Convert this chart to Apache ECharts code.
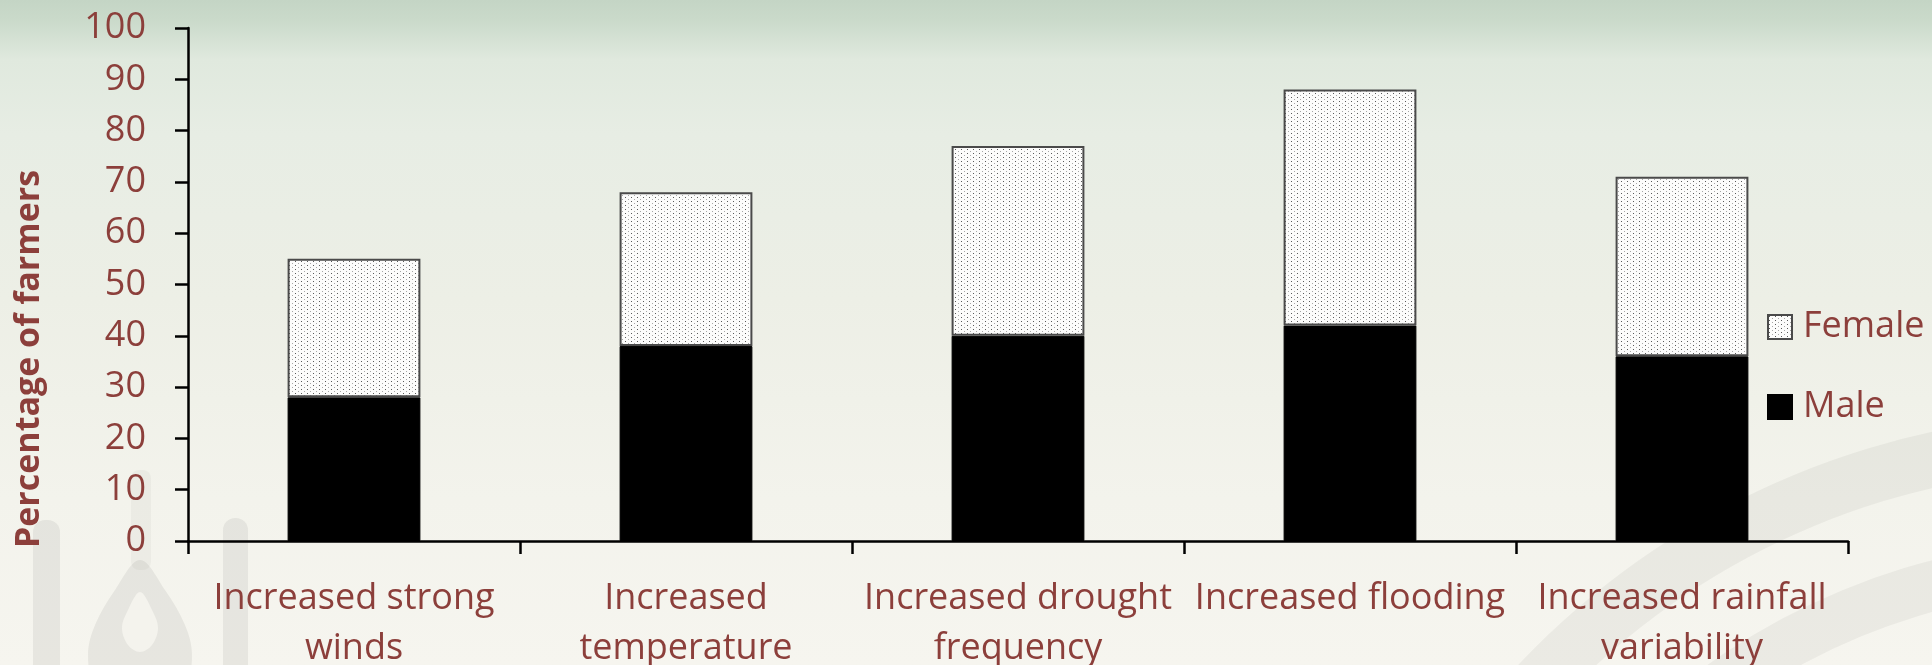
<!DOCTYPE html>
<html><head><meta charset="utf-8">
<script src="https://cdn.jsdelivr.net/npm/echarts@6/dist/echarts.min.js"></script>
<style>html,body{margin:0;padding:0;background:#f4f3ed;}#c{width:1932px;height:665px;}</style>
</head><body><div id="c"></div>
<script>
// ---- data ----
const categories = ['Increased strong\nwinds', 'Increased\ntemperature', 'Increased drought\nfrequency', 'Increased flooding', 'Increased rainfall\nvariability'];
const male = [28, 38, 40, 42, 36];
const female = [27, 30, 37, 46, 35];
const yMin = 0, yMax = 100, yStep = 10;
const seriesNames = ['Female', 'Male'];
const yTitle = 'Percentage of farmers';

// ---- styles ----
const txt = '#8C3F3B';
const font = 'Open Sans';

// dotted pattern for Female bars
const pc = document.createElement('canvas');
pc.width = 6; pc.height = 4;
const g = pc.getContext('2d');
g.fillStyle = '#fcfcfb'; g.fillRect(0, 0, 6, 4);
g.fillStyle = '#5a5a5a'; g.fillRect(1, 1, 1, 1);
g.fillStyle = '#a8a8a8'; g.fillRect(4, 3, 1, 1);

const wm = 'rgba(0,0,0,0.06)';
const chart = echarts.init(document.getElementById('c'), null, {renderer: 'canvas'});
chart.setOption({
  backgroundColor: {
    type: 'linear', x: 0, y: 0, x2: 0, y2: 1,
    colorStops: [
      {offset: 0, color: '#c4d5c5'},
      {offset: 0.03, color: '#cadaca'},
      {offset: 0.09, color: '#e0e9de'},
      {offset: 0.2, color: '#e7ede4'},
      {offset: 0.45, color: '#edefe6'},
      {offset: 0.75, color: '#f3f3ec'},
      {offset: 1, color: '#f6f5ef'}
    ]
  },
  animation: false,
  textStyle: {fontFamily: font},
  graphic: [
    // watermark bottom-left
    {type: 'rect', z: -10, silent: true, shape: {x: 33, y: 520, width: 27, height: 160, r: 12}, style: {fill: wm}},
    {type: 'rect', z: -10, silent: true, shape: {x: 223, y: 518, width: 25, height: 160, r: 12}, style: {fill: wm}},
    {type: 'rect', z: -10, silent: true, shape: {x: 131, y: 470, width: 20, height: 100, r: 8}, style: {fill: 'rgba(0,0,0,0.03)'}},
    {type: 'polygon', z: -10, silent: true, shape: {smooth: 0.35, points: [[140,560],[165,590],[185,625],[192,655],[185,680],[140,692],[95,680],[88,655],[95,625],[115,590]]}, style: {fill: wm}},
    {type: 'polygon', z: -9, silent: true, shape: {smooth: 0.35, points: [[140,592],[152,610],[158,628],[152,645],[140,652],[128,645],[122,628],[128,610]]}, style: {fill: '#f4f3ed'}},
    // watermark bottom-right arcs
    {type: 'ring', z: -10, silent: true, shape: {cx: 2100, cy: 1214, r: 800, r0: 745}, style: {fill: 'rgba(0,0,0,0.045)'}},
    {type: 'ring', z: -10, silent: true, shape: {cx: 2100, cy: 1214, r: 675, r0: 625}, style: {fill: 'rgba(0,0,0,0.045)'}},
    {type: 'ring', z: -10, silent: true, shape: {cx: 2100, cy: 1214, r: 560, r0: 515}, style: {fill: 'rgba(0,0,0,0.035)'}},
    // y-axis title
    {type: 'text', x: 29, y: 359, rotation: Math.PI / 2, z: 10,
     style: {text: yTitle, font: 'bold 34px "' + font + '"', fill: txt, align: 'center', verticalAlign: 'middle'}}
  ],
  legend: {
    data: seriesNames,
    orient: 'vertical',
    left: 1767, top: 309,
    padding: 0,
    icon: 'rect',
    itemWidth: 24, itemHeight: 24, itemGap: 44,
    textStyle: {fontSize: 36, color: txt, fontFamily: font, lineHeight: 30, padding: [0, 0, 0, 6]}
  },
  grid: {left: 188, right: 84, top: 28, bottom: 124, containLabel: false, outerBoundsMode: 'none'},
  xAxis: {
    type: 'category',
    data: categories,
    axisLine: {lineStyle: {color: '#000', width: 2.5}},
    axisTick: {show: true, length: 13, interval: 0, lineStyle: {color: '#000', width: 2.5}},
    axisLabel: {interval: 0, margin: 33, fontSize: 36, lineHeight: 50, color: txt, fontFamily: font},
    splitLine: {show: false}
  },
  yAxis: {
    type: 'value',
    min: yMin, max: yMax, interval: yStep,
    axisLine: {show: true, lineStyle: {color: '#000', width: 2.5}},
    axisTick: {show: true, length: 13, lineStyle: {color: '#000', width: 2.5}},
    axisLabel: {margin: 42, fontSize: 36, color: txt, fontFamily: font},
    splitLine: {show: false}
  },
  series: [
    {name: 'Male', type: 'bar', stack: 'a', data: male, barWidth: '40%',
     itemStyle: {color: '#000', borderColor: '#000', borderWidth: 1}},
    {name: 'Female', type: 'bar', stack: 'a', data: female, barWidth: '40%',
     itemStyle: {color: {image: pc, repeat: 'repeat'}, borderColor: '#4a4a4a', borderWidth: 2}}
  ]
});
</script>
</body></html>
